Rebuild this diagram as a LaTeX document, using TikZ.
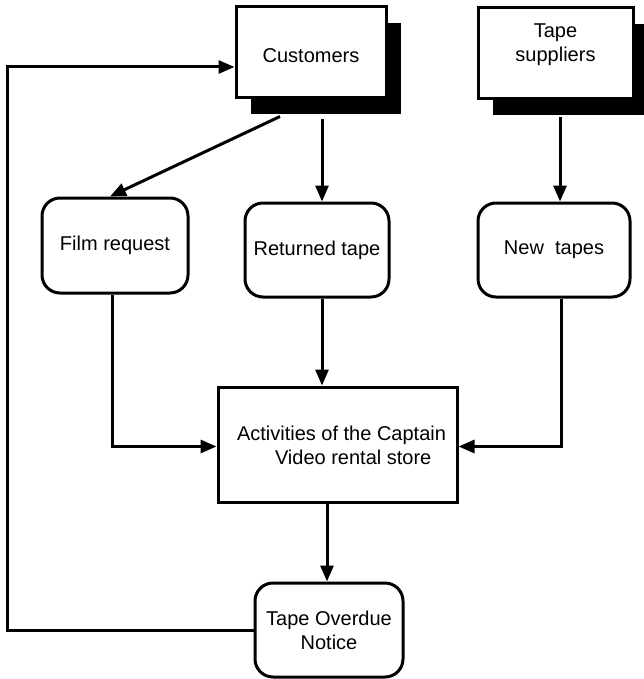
\documentclass[tikz,border=0pt]{standalone}
\usepackage{fontspec}
\setmainfont{Liberation Sans}
\usetikzlibrary{arrows.meta,calc,shadows}
\begin{document}
\begin{tikzpicture}[x=1pt,y=-1pt,
  every node/.style={font=\fontsize{20}{24}\selectfont, inner sep=0pt, align=center},
  entity/.style={draw, line width=3pt, fill=white,
    drop shadow={shadow xshift=15pt, shadow yshift=-16pt, fill=black, opacity=1}},
  store/.style={draw, line width=3pt, fill=white, rounded corners=18pt},
  proc/.style={draw, line width=3pt, fill=white},
  flow/.style={line width=3pt, -{Triangle[length=16pt,width=13pt]}}]
\useasboundingbox (0,0) rectangle (643,679);

% external entities (with solid drop shadows)
\node[entity, minimum width=150pt, minimum height=91pt] (cust) at (311,52.5) {};
\node (custtext) at (311,56) {Customers};
\node[entity, minimum width=155pt, minimum height=91pt] (supp) at (555.5,53.5) {};
\node (supptext) at (555.5,45) {Tape\\suppliers};

% data items
\node[store, minimum width=146pt, minimum height=95pt] (film) at (115,245.5) {Film request};
\node[store, minimum width=144pt, minimum height=94pt] (ret) at (317,250) {Returned tape};
\node[store, minimum width=152pt, minimum height=94pt] (new) at (554,250) {New\ \ tapes};

% central process
\node[proc, minimum width=239pt, minimum height=115pt] (act) at (337.5,444.5) {};
\node[align=left] (acttext) at (341.5,445)
  {Activities of the Captain\\\hspace*{38pt}Video rental store};

% output notice
\node[store, minimum width=148pt, minimum height=94pt] (note) at (329,630) {Tape Overdue\\Notice};

% flows
\coordinate (rail) at (7,0);
\draw[flow] (note.west) -- (note.west -| rail) |- ($(cust.west)+(0,14.5)$);
\draw[flow] ($(cust.south)+(-31,17)$) -- ($(film.north)+(-5,0)$);
\draw[flow] ($(cust.south)+(11,20)$) -- ($(ret.north)+(5,0)$);
\draw[flow] ($(supp.south)+(4.5,17)$) -- ($(new.north)+(6,0)$);
\draw[flow] ($(film.south)+(-3,0)$) |- ($(act.west)+(0,2)$);
\draw[flow] ($(ret.south)+(5,0)$) coordinate (rs) -- (rs |- act.north);
\draw[flow] ($(new.south)+(7,0)$) |- ($(act.east)+(0,2)$);
\draw[flow] ($(act.south)+(-10.5,0)$) coordinate (as) -- (as |- note.north);
\end{tikzpicture}
\end{document}
